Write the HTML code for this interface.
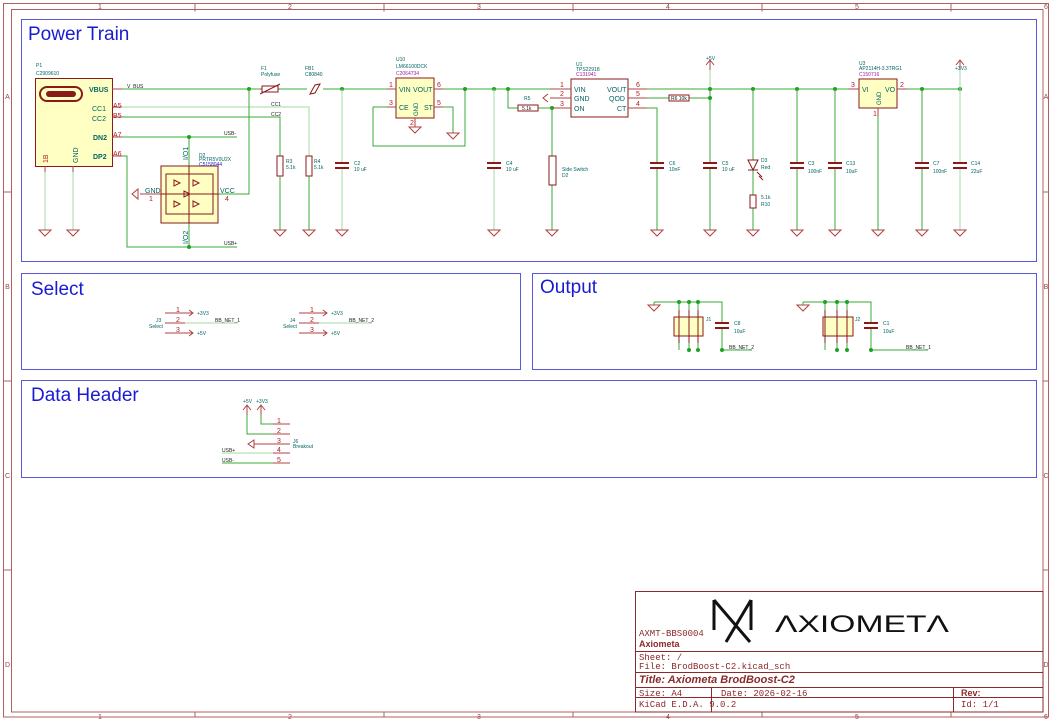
<!DOCTYPE html>
<html><head><meta charset="utf-8"><style>
html,body{margin:0;padding:0;background:#fff}
svg{display:block}
text{font-family:"Liberation Sans",sans-serif}
.f{stroke:#b06060;fill:none;stroke-width:1}
.ft{fill:#a04040;font-size:7px;text-anchor:middle}
.sb{stroke:#5a5ad8;fill:none;stroke-width:1}
.st{fill:#1a1ad0;font-size:19px}
.w{stroke:#38a838;stroke-width:1;fill:none}
.wl{stroke:#a6daa6;stroke-width:1;fill:none}
.c{stroke:#8a1a1a;stroke-width:1;fill:none}
.cf{stroke:#8a1a1a;stroke-width:1;fill:#ffffc4}
.p{stroke:#b04040;stroke-width:1;fill:none}
.pt{fill:#b02020;font-size:7px}
.lt{fill:#006464;font-size:5px}
.nt{fill:#202020;font-size:5px}
.pk{fill:#a020a0;font-size:5px}
.j{fill:#20a020}
.tb{stroke:#8a2a2a;fill:none;stroke-width:1}
.tt{fill:#8a2a2a;font-size:9px;font-family:"Liberation Mono",monospace}
</style></head><body>
<svg width="1052" height="721" viewBox="0 0 1052 721" xmlns="http://www.w3.org/2000/svg">
<defs>
<g id="gnd"><path d="M-6,0 H6 L0,6 Z" stroke="#b04040" fill="none" stroke-width="1"/></g>
<g id="cap"><path d="M-7,0 H7 M-7,5 H7" stroke="#8a1a1a" stroke-width="2"/></g>
<g id="pwr"><path d="M-4,5 L0,0 L4,5 M0,0 V10" stroke="#b04040" fill="none" stroke-width="1"/></g>
</defs>
<rect class="f" x="3.5" y="3.5" width="1045" height="713.5"/>
<rect class="f" x="11.5" y="9.5" width="1031.5" height="702.5"/>
<g class="ft">
<text x="100" y="9">1</text><text x="290" y="9">2</text><text x="479" y="9">3</text><text x="668" y="9">4</text><text x="857" y="9">5</text><text x="1046" y="9">6</text>
<text x="100" y="719">1</text><text x="290" y="719">2</text><text x="479" y="719">3</text><text x="668" y="719">4</text><text x="857" y="719">5</text><text x="1046" y="719">6</text>
<text x="7.5" y="99">A</text><text x="7.5" y="289">B</text><text x="7.5" y="478">C</text><text x="7.5" y="667">D</text>
<text x="1046" y="99">A</text><text x="1046" y="289">B</text><text x="1046" y="478">C</text><text x="1046" y="667">D</text>
</g>
<path class="f" d="M195,3.5V11.5 M384,3.5V11.5 M573,3.5V11.5 M762,3.5V11.5 M951,3.5V11.5 M195,712V717 M384,712V717 M573,712V717 M762,712V717 M951,712V717 M3.5,192H11.5 M3.5,381H11.5 M3.5,570H11.5 M1043,192H1048.5 M1043,381H1048.5 M1043,570H1048.5"/>
<rect class="sb" x="21.5" y="19.5" width="1015" height="242"/>
<text class="st" x="28" y="40">Power Train</text>
<rect class="sb" x="21.5" y="273.5" width="499" height="96"/>
<text class="st" x="31" y="295">Select</text>
<rect class="sb" x="532.5" y="273.5" width="504" height="96"/>
<text class="st" x="540" y="293">Output</text>
<rect class="sb" x="21.5" y="380.5" width="1015" height="97"/>
<text class="st" x="31" y="401">Data Header</text>

<text class="lt" x="36" y="67">P1</text><text class="lt" x="36" y="75">C2909610</text>
<rect class="cf" x="35.5" y="78.5" width="77" height="88"/>
<rect x="40" y="87" width="42" height="14" rx="7" fill="none" stroke="#8a1a1a" stroke-width="2"/>
<rect x="46" y="91" width="30" height="6" rx="3" fill="#8a1a1a"/>
<g font-size="7" font-weight="bold"><text x="89" y="92" fill="#006464">VBUS</text><text x="92" y="111" fill="#006464" font-weight="normal">CC1</text><text x="92" y="121" fill="#006464" font-weight="normal">CC2</text><text x="93" y="140" fill="#006464">DN2</text><text x="93" y="159" fill="#006464">DP2</text></g>
<text x="48" y="163" class="pt" transform="rotate(-90 48 163)">1B</text>
<text x="78" y="163" fill="#006464" font-size="7" transform="rotate(-90 78 163)">GND</text>
<g class="pt" font-size="6"><text x="113" y="108">A5</text><text x="113" y="118">B5</text><text x="113" y="137">A7</text><text x="113" y="156">A6</text></g>
<path class="p" d="M112,89H122 M112,107H122 M112,117H122 M112,137H122 M112,156H122 M45,166V172 M73,166V172"/>
<path class="wl" d="M45,172V230 M73,172V230"/>
<use href="#gnd" x="45" y="230"/><use href="#gnd" x="73" y="230"/>
<text class="nt" x="127" y="88">V_BUS</text>
<path class="w" d="M122,89H260 M280,89H307 M323,89H387"/>
<path class="p" d="M260,89H262 M278,89H280"/>
<rect class="c" x="262" y="86" width="16" height="6"/><path class="c" d="M260,94 L280,84"/>
<text class="lt" x="261" y="70">F1</text><text class="lt" x="261" y="76">Polyfuse</text>
<path class="c" d="M310,94 L315,85 L320,84 L315,93 Z"/>
<text class="lt" x="305" y="70">FB1</text><text class="lt" x="305" y="76">C80840</text>
<circle class="j" cx="249" cy="89" r="2"/><circle class="j" cx="342" cy="89" r="2"/>
<path class="wl" d="M122,107H309V156"/><path class="w" d="M122,117H280V156"/>
<text class="nt" x="271" y="106">CC1</text><text class="nt" x="271" y="116">CC2</text>
<rect class="c" x="277" y="156" width="6" height="20" fill="none"/><rect class="c" x="306" y="156" width="6" height="20"/>
<text class="lt" x="286" y="163">R3</text><text class="lt" x="286" y="169">5.1k</text>
<text class="lt" x="314" y="163">R4</text><text class="lt" x="314" y="169">5.1k</text>
<path class="w" d="M280,176V230 M309,176V230"/>
<use href="#gnd" x="280" y="230"/><use href="#gnd" x="309" y="230"/>
<path class="wl" d="M342,89V163 M342,168V230"/><use href="#cap" x="342" y="163"/>
<text class="lt" x="354" y="165">C2</text><text class="lt" x="354" y="171">10 uF</text>
<use href="#gnd" x="342" y="230"/>
<path class="w" d="M122,137H237 M122,156H127V247H237 M189,137V166 M189,223V247 M218,194H249V89"/>
<circle class="j" cx="189" cy="137" r="2"/><circle class="j" cx="189" cy="247" r="2"/>
<text class="nt" x="224" y="135">USB-</text><text class="nt" x="224" y="245">USB+</text>
<rect class="cf" x="161" y="166" width="57" height="57"/>
<rect class="c" x="166" y="174" width="47" height="40"/>
<path d="M174,180l6,3l-6,3z M193,180l6,3l-6,3z M184,191l6,3l-6,3z M174,201l6,3l-6,3z M193,201l6,3l-6,3z" fill="none" stroke="#8a1a1a"/>
<path class="c" d="M189,166V223 M161,194H218"/>
<path class="p" d="M140,194H161"/><path d="M132,194l6,-5v10z" fill="none" stroke="#b04040"/>
<text x="145" y="193" fill="#006464" font-size="7">GND</text><text class="pt" x="149" y="201">1</text>
<text x="220" y="193" fill="#006464" font-size="7">VCC</text><text class="pt" x="225" y="201">4</text>
<text class="lt" x="199" y="157">D2</text><text class="lt" x="199" y="161">PRTR5V0U2X</text><text x="199" y="166" font-size="5" fill="#2020c0">C5158044</text>
<text x="188" y="160" fill="#006464" font-size="7" transform="rotate(-90 188 160)">I/O1</text>
<text x="188" y="244" fill="#006464" font-size="7" transform="rotate(-90 188 244)">I/O2</text>
<text class="lt" x="396" y="61">U10</text><text class="lt" x="396" y="68">LM66100DCK</text><text class="pk" x="396" y="75">C2064734</text>
<rect class="cf" x="396" y="78" width="38" height="40"/>
<path class="p" d="M387,89H396 M387,107H396 M434,89H443 M434,107H443 M415,118V127"/>
<text x="399" y="92" fill="#006464" font-size="7">VIN</text><text x="413" y="92" fill="#006464" font-size="7">VOUT</text>
<text x="399" y="110" fill="#006464" font-size="7">CE</text><text x="424" y="110" fill="#006464" font-size="7">ST</text>
<text x="418" y="116" fill="#006464" font-size="6" transform="rotate(-90 418 116)">GND</text>
<text class="pt" x="389" y="87">1</text><text class="pt" x="389" y="105">3</text><text class="pt" x="437" y="87">6</text><text class="pt" x="437" y="105">5</text><text class="pt" x="410" y="125">2</text>
<path class="w" d="M373,107H387 M373,107V146H465V89 M443,89H550 M443,107H453V133"/>
<use href="#gnd" x="415" y="127"/><use href="#gnd" x="453" y="133"/>
<circle class="j" cx="465" cy="89" r="2"/>
<circle class="j" cx="494" cy="89" r="2"/><circle class="j" cx="508" cy="89" r="2"/>
<path class="wl" d="M494,89V163 M494,168V230"/><use href="#cap" x="494" y="163"/><use href="#gnd" x="494" y="230"/>
<text class="lt" x="506" y="165">C4</text><text class="lt" x="506" y="171">10 uF</text>
<text class="lt" x="576" y="66">U1</text><text class="lt" x="576" y="71">TPS22918</text><text class="pk" x="576" y="76">C131941</text>
<rect x="571" y="79" width="57" height="38" fill="#fff" stroke="#8a1a1a"/>
<path class="p" d="M550,89H571 M550,98H571 M550,108H571 M628,89H647 M628,98H647 M628,108H647"/>
<g fill="#006464" font-size="7"><text x="574" y="92">VIN</text><text x="574" y="101">GND</text><text x="574" y="111">ON</text><text x="607" y="92">VOUT</text><text x="609" y="101">QOD</text><text x="617" y="111">CT</text></g>
<g class="pt"><text x="560" y="87">1</text><text x="560" y="96">2</text><text x="560" y="106">3</text><text x="636" y="87">6</text><text x="636" y="96">5</text><text x="636" y="106">4</text></g>
<path d="M548,94 L543,98 L548,102" fill="none" stroke="#b04040"/>
<path class="w" d="M508,89V108H518 M538,108H552"/><rect class="c" x="518" y="105" width="20" height="6"/>
<text x="522" y="110" font-size="5" fill="#202020">5.1k</text><text class="lt" x="524" y="100">R5</text>
<circle class="j" cx="552" cy="108" r="2"/>
<path class="w" d="M552,108V156 M552,185V230"/>
<rect class="c" x="549" y="156" width="7" height="29"/>
<text class="lt" x="562" y="171">Side Switch</text><text class="lt" x="562" y="177">D2</text>
<use href="#gnd" x="552" y="230"/>
<path class="w" d="M647,89H848 M647,98H669 M689,98H710 M647,108H657V163 M657,168V230"/>
<rect class="c" x="669" y="95" width="20" height="6"/><text x="671" y="100" font-size="5" fill="#202020">R6 10k</text>
<use href="#cap" x="657" y="163"/><use href="#gnd" x="657" y="230"/>
<text class="lt" x="669" y="165">C6</text><text class="lt" x="669" y="171">10nF</text>
<use href="#pwr" x="710" y="60"/><text class="lt" x="706" y="60">+5V</text>
<path class="wl" d="M710,70V89"/><path class="w" d="M710,89V163 M710,168V230"/>
<circle class="j" cx="710" cy="89" r="2"/><circle class="j" cx="710" cy="98" r="2"/>
<use href="#cap" x="710" y="163"/><use href="#gnd" x="710" y="230"/>
<text class="lt" x="722" y="165">C5</text><text class="lt" x="722" y="171">10 uF</text>
<circle class="j" cx="753" cy="89" r="2"/>
<path class="w" d="M753,89V160 M753,170V195 M753,208V230"/>
<path d="M748,160H758L753,170Z M748,170H758" fill="none" stroke="#8a1a1a"/>
<path d="M757,172l5,5 M759,176l4,4" stroke="#8a1a1a"/>
<rect class="c" x="750" y="195" width="6" height="13"/>
<text class="lt" x="761" y="162">D3</text><text class="lt" x="761" y="169">Red</text>
<text class="lt" x="761" y="199">5.1k</text><text class="lt" x="761" y="206">R10</text>
<use href="#gnd" x="753" y="230"/>
<circle class="j" cx="797" cy="89" r="2"/><circle class="j" cx="835" cy="89" r="2"/>
<path class="w" d="M797,89V163 M797,168V230 M835,89V163 M835,168V230"/>
<use href="#cap" x="797" y="163"/><use href="#cap" x="835" y="163"/>
<use href="#gnd" x="797" y="230"/><use href="#gnd" x="835" y="230"/>
<text class="lt" x="808" y="165">C3</text><text class="lt" x="808" y="173">100nF</text>
<text class="lt" x="846" y="165">C13</text><text class="lt" x="846" y="173">10uF</text>
<text class="lt" x="859" y="65">U3</text><text class="lt" x="859" y="70">AP2114H-3.3TRG1</text><text class="pk" x="859" y="76">C150716</text>
<rect class="cf" x="859" y="79" width="38" height="29"/>
<path class="p" d="M848,89H859 M897,89H907 M878,108V116"/>
<text x="862" y="92" fill="#006464" font-size="7">VI</text><text x="885" y="92" fill="#006464" font-size="7">VO</text>
<text x="881" y="105" fill="#006464" font-size="6" transform="rotate(-90 881 105)">GND</text>
<text class="pt" x="851" y="87">3</text><text class="pt" x="900" y="87">2</text><text class="pt" x="873" y="116">1</text>
<path class="w" d="M878,116V230 M907,89H960"/>
<use href="#gnd" x="878" y="230"/>
<circle class="j" cx="922" cy="89" r="2"/><circle class="j" cx="960" cy="89" r="2"/>
<path class="w" d="M922,89V163 M922,168V230"/><path class="wl" d="M960,89V163 M960,168V230 M960,70V89"/>
<use href="#cap" x="922" y="163"/><use href="#cap" x="960" y="163"/>
<use href="#gnd" x="922" y="230"/><use href="#gnd" x="960" y="230"/>
<use href="#pwr" x="960" y="60"/><text class="lt" x="955" y="70">+3V3</text>
<text class="lt" x="933" y="165">C7</text><text class="lt" x="933" y="173">100nF</text>
<text class="lt" x="971" y="165">C14</text><text class="lt" x="971" y="173">22uF</text>

<g>
<path class="p" d="M165,313H193 M165,323H185 M165,333H193 M189,310l4,3l-4,3 M189,330l4,3l-4,3"/>
<path class="wl" d="M185,323H238"/>
<g class="pt" font-size="6"><text x="176" y="312">1</text><text x="176" y="322">2</text><text x="176" y="332">3</text></g>
<text class="lt" x="197" y="315">+3V3</text><text class="lt" x="197" y="335">+5V</text>
<text class="nt" x="215" y="322">BB_NET_1</text>
<text class="lt" x="156" y="322">J3</text><text class="lt" x="149" y="328">Select</text>
</g>
<g transform="translate(134,0)">
<path class="p" d="M165,313H193 M165,323H185 M165,333H193 M189,310l4,3l-4,3 M189,330l4,3l-4,3"/>
<path class="wl" d="M185,323H238"/>
<g class="pt" font-size="6"><text x="176" y="312">1</text><text x="176" y="322">2</text><text x="176" y="332">3</text></g>
<text class="lt" x="197" y="315">+3V3</text><text class="lt" x="197" y="335">+5V</text>
<text class="nt" x="215" y="322">BB_NET_2</text>
<text class="lt" x="156" y="322">J4</text><text class="lt" x="149" y="328">Select</text>
</g>

<g>
<path class="w" d="M654,302H722V323 M722,329V350H752 M679,336V350 M689,336V350 M698,336V350 M679,302V317 M689,302V317 M698,302V317"/>
<use href="#gnd" x="654" y="305"/><path class="w" d="M654,302V305"/>
<rect class="cf" x="674" y="317" width="29" height="19"/>
<path class="c" d="M679,310V343 M689,310V343 M698,310V343"/>
<use href="#cap" x="722" y="323"/>
<circle class="j" cx="679" cy="302" r="2"/><circle class="j" cx="689" cy="302" r="2"/><circle class="j" cx="698" cy="302" r="2"/>
<circle class="j" cx="689" cy="350" r="2"/><circle class="j" cx="698" cy="350" r="2"/><circle class="j" cx="722" cy="350" r="2"/>
<text class="lt" x="706" y="321">J1</text><text class="lt" x="734" y="325">C8</text><text class="lt" x="734" y="333">10uF</text>
<text class="nt" x="729" y="349">BB_NET_2</text>
</g>
<g>
<path class="w" d="M803,302H871V323 M871,329V350H928 M825,336V350 M837,336V350 M847,336V350 M825,302V317 M837,302V317 M847,302V317"/>
<use href="#gnd" x="803" y="305"/><path class="w" d="M803,302V305"/>
<rect class="cf" x="823" y="317" width="30" height="19"/>
<path class="c" d="M825,310V343 M837,310V343 M847,310V343"/>
<use href="#cap" x="871" y="323"/>
<circle class="j" cx="825" cy="302" r="2"/><circle class="j" cx="837" cy="302" r="2"/><circle class="j" cx="847" cy="302" r="2"/>
<circle class="j" cx="837" cy="350" r="2"/><circle class="j" cx="847" cy="350" r="2"/><circle class="j" cx="871" cy="350" r="2"/>
<text class="lt" x="855" y="321">J2</text><text class="lt" x="883" y="325">C1</text><text class="lt" x="883" y="333">10uF</text>
<text class="nt" x="906" y="349">BB_NET_1</text>
</g>

<text class="lt" x="243" y="403">+5V</text><text class="lt" x="256" y="403">+3V3</text>
<path d="M243,410l4,-5l4,5 M257,410l4,-5l4,5" fill="none" stroke="#b04040"/>
<path class="p" d="M247,405V415 M261,405V415 M273,424H290 M273,434H290 M273,444H290 M273,453H290 M273,463H290 M254,444H273"/>
<path class="w" d="M261,415V424H273 M247,415V434H273"/>
<path d="M254,440l-6,4l6,4z" fill="none" stroke="#b04040"/>
<path class="wl" d="M222,453H273"/><path class="w" d="M222,463H273"/>
<g class="pt" font-size="7"><text x="277" y="423">1</text><text x="277" y="433">2</text><text x="277" y="443">3</text><text x="277" y="452">4</text><text x="277" y="462">5</text></g>
<text class="nt" x="222" y="452">USB+</text><text class="nt" x="222" y="462">USB-</text>
<text class="lt" x="293" y="443">J6</text><text class="lt" x="293" y="448">Breakout</text>

<rect class="tb" x="635.5" y="591.5" width="407.5" height="120.5"/>
<path class="tb" d="M635.5,651.5H1043 M635.5,672.5H1043 M635.5,687.5H1043 M635.5,697.5H1043 M711.5,687.5V712 M953.5,687.5V712"/>
<text class="tt" x="639" y="636">AXMT-BBS0004</text>
<text x="639" y="647" fill="#8a2a2a" font-size="9" font-weight="bold" font-family="Liberation Sans">Axiometa</text>
<text class="tt" x="639" y="660">Sheet: /</text>
<text class="tt" x="639" y="669">File: BrodBoost-C2.kicad_sch</text>
<text x="639" y="683" fill="#8a2a2a" font-size="11" font-weight="bold" font-style="italic" font-family="Liberation Mono,monospace">Title: Axiometa BrodBoost-C2</text>
<text class="tt" x="639" y="696">Size: A4</text><text class="tt" x="721" y="696">Date: 2026-02-16</text>
<text x="961" y="696" fill="#8a2a2a" font-size="9" font-weight="bold" font-family="Liberation Sans">Rev:</text>
<text class="tt" x="639" y="707">KiCad E.D.A. 9.0.2</text><text class="tt" x="961" y="707">Id: 1/1</text>
<path d="M714,600V630 M714,600L750,642 M751,600V630 M751,600L726,642" stroke="#111" stroke-width="3" fill="none"/>
<text x="775" y="632" fill="#111" font-size="24" font-family="Liberation Sans" textLength="174" lengthAdjust="spacingAndGlyphs">&#923;XIOMET&#923;</text>
</svg>
</body></html>
